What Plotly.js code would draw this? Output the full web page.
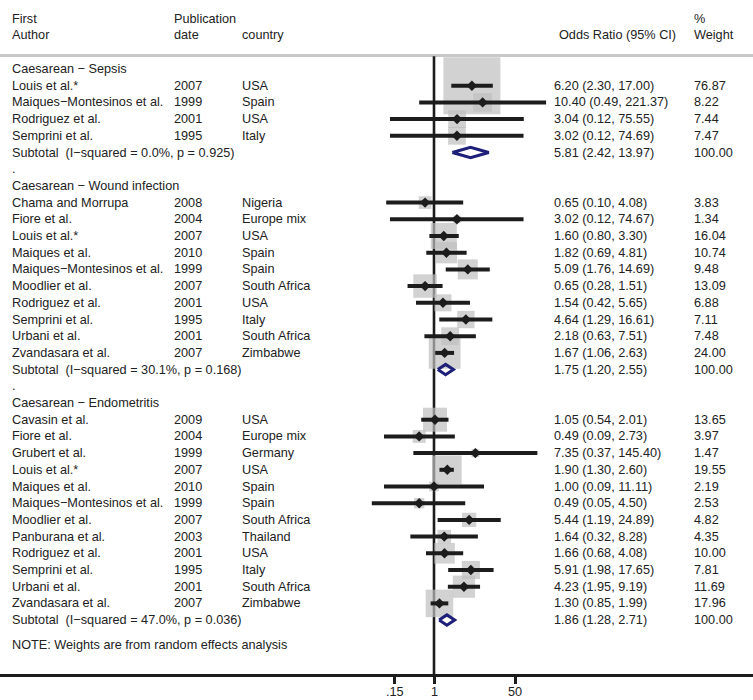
<!DOCTYPE html>
<html>
<head>
<meta charset="utf-8">
<script src="https://cdn.plot.ly/plotly-3.0.1.min.js"></script>
<style>
html,body{margin:0;padding:0;background:#fff;}
#chart{width:753px;height:700px;}
</style>
</head>
<body>
<div id="chart"></div>
<script>
// ---------------- DATA ----------------
const groupNames = ['Caesarean \u2212 Sepsis', 'Caesarean \u2212 Wound infection', 'Caesarean \u2212 Endometritis'];

const groupIdx = [0,0,0,0, 1,1,1,1,1,1,1,1,1,1, 2,2,2,2,2,2,2,2,2,2,2,2];
const authors = [
  'Louis et al.*', 'Maiques\u2212Montesinos et al.', 'Rodriguez et al.', 'Semprini et al.',
  'Chama and Morrupa', 'Fiore et al.', 'Louis et al.*', 'Maiques et al.', 'Maiques\u2212Montesinos et al.',
  'Moodlier et al.', 'Rodriguez et al.', 'Semprini et al.', 'Urbani et al.', 'Zvandasara et al.',
  'Cavasin et al.', 'Fiore et al.', 'Grubert et al.', 'Louis et al.*', 'Maiques et al.',
  'Maiques\u2212Montesinos et al.', 'Moodlier et al.', 'Panburana et al.', 'Rodriguez et al.',
  'Semprini et al.', 'Urbani et al.', 'Zvandasara et al.'
];
const years = [
  '2007','1999','2001','1995',
  '2008','2004','2007','2010','1999','2007','2001','1995','2001','2007',
  '2009','2004','1999','2007','2010','1999','2007','2003','2001','1995','2001','2007'
];
const countries = [
  'USA','Spain','USA','Italy',
  'Nigeria','Europe mix','USA','Spain','Spain','South Africa','USA','Italy','South Africa','Zimbabwe',
  'USA','Europe mix','Germany','USA','Spain','Spain','South Africa','Thailand','USA','Italy','South Africa','Zimbabwe'
];
const orEst = [6.20,10.40,3.04,3.02,
  0.65,3.02,1.60,1.82,5.09,0.65,1.54,4.64,2.18,1.67,
  1.05,0.49,7.35,1.90,1.00,0.49,5.44,1.64,1.66,5.91,4.23,1.30];
const ciLo = [2.30,0.49,0.12,0.12,
  0.10,0.12,0.80,0.69,1.76,0.28,0.42,1.29,0.63,1.06,
  0.54,0.09,0.37,1.30,0.09,0.05,1.19,0.32,0.68,1.98,1.95,0.85];
const ciHi = [17.00,221.37,75.55,74.69,
  4.08,74.67,3.30,4.81,14.69,1.51,5.65,16.61,7.51,2.63,
  2.01,2.73,145.40,2.60,11.11,4.50,24.89,8.28,4.08,17.65,9.19,1.99];
const weights = [76.87,8.22,7.44,7.47,
  3.83,1.34,16.04,10.74,9.48,13.09,6.88,7.11,7.48,24.00,
  13.65,3.97,1.47,19.55,2.19,2.53,4.82,4.35,10.00,7.81,11.69,17.96];

const subOR = [5.81, 1.75, 1.86];
const subLo = [2.42, 1.20, 1.28];
const subHi = [13.97, 2.55, 2.71];
const subI2 = ['0.0%', '30.1%', '47.0%'];
const subP = ['0.925', '0.168', '0.036'];

const tickVals = [0.15, 1, 50];
const tickText = ['.15', '1', '50'];
const noteText = 'NOTE: Weights are from random effects analysis';

// ---------------- LAYOUT HELPERS ----------------
const W = 753, H = 700;
const FONT = {family: 'Liberation Sans, Arial, Helvetica, sans-serif', size: 12.7, color: '#222'};
const colX = {author: 12, date: 174, country: 242, orHead: 559, orVal: 554, weight: 694};
const px = v => v / W;

const annotations = [];
function addText(xpx, row, text) {
  annotations.push({
    xref: 'paper', yref: 'y', x: px(xpx), y: row, text: text,
    xanchor: 'left', yanchor: 'middle', showarrow: false,
    borderpad: 0, borderwidth: 0, font: FONT
  });
}

// headers
addText(colX.author, -3.0, 'First');
addText(colX.author, -2.04, 'Author');
addText(colX.date, -3.0, 'Publication');
addText(colX.date, -2.04, 'date');
addText(colX.country, -2.04, 'country');
addText(colX.orHead, -2.04, 'Odds Ratio (95% CI)');
addText(colX.weight, -3.0, '%');
addText(colX.weight, -2.04, 'Weight');

// build rows
const studyRow = new Array(authors.length);
const subRow = [];
let row = 0;
for (let g = 0; g < groupNames.length; g++) {
  addText(colX.author, row, groupNames[g]);
  row++;
  for (let i = 0; i < authors.length; i++) {
    if (groupIdx[i] !== g) continue;
    studyRow[i] = row;
    addText(colX.author, row, authors[i]);
    addText(colX.date, row, years[i]);
    addText(colX.country, row, countries[i]);
    addText(colX.orVal, row, orEst[i].toFixed(2) + ' (' + ciLo[i].toFixed(2) + ', ' + ciHi[i].toFixed(2) + ')');
    addText(colX.weight, row, weights[i].toFixed(2));
    row++;
  }
  subRow.push(row);
  addText(colX.author, row, 'Subtotal\u00a0 (I\u2212squared = ' + subI2[g] + ', p = ' + subP[g] + ')');
  addText(colX.orVal, row, subOR[g].toFixed(2) + ' (' + subLo[g].toFixed(2) + ', ' + subHi[g].toFixed(2) + ')');
  addText(colX.weight, row, '100.00');
  row++;
  if (g < groupNames.length - 1) {
    addText(colX.author, row, '.');
    row++;
  }
}
addText(colX.author, row + 0.5, noteText);

// ---------------- TRACES ----------------
const traces = [];

// weight boxes
traces.push({
  type: 'scatter', mode: 'markers', x: orEst, y: studyRow,
  marker: {symbol: 'square', size: weights.map(w => 6.5 * Math.sqrt(w)), color: '#bfbfbf', line: {width: 0}},
  hoverinfo: 'skip', cliponaxis: false
});

// CI lines
const ciX = [], ciY = [];
for (let i = 0; i < authors.length; i++) {
  ciX.push(ciLo[i], ciHi[i], null);
  ciY.push(studyRow[i], studyRow[i], null);
}
traces.push({
  type: 'scatter', mode: 'lines', x: ciX, y: ciY,
  line: {color: '#1c1c1c', width: 4}, hoverinfo: 'skip'
});

// point estimates
traces.push({
  type: 'scatter', mode: 'markers', x: orEst, y: studyRow,
  marker: {symbol: 'diamond', size: 8, color: '#1c1c1c', line: {width: 0}},
  hoverinfo: 'skip'
});

// subtotal diamonds
const dh = 0.31;
for (let g = 0; g < subOR.length; g++) {
  const r = subRow[g];
  traces.push({
    type: 'scatter', mode: 'lines',
    x: [subLo[g], subOR[g], subHi[g], subOR[g], subLo[g]],
    y: [r, r - dh, r, r + dh, r],
    line: {color: '#1e1f78', width: 3}, hoverinfo: 'skip'
  });
}

// ---------------- AXES ----------------
const pxPerDecade = 47.8;
const x1px = 434;
const plotBottom = 674;
const rowTop = 69, rowStep = 16.7;
const yTopRow = (0 - rowTop) / rowStep;
const yBotRow = (plotBottom - rowTop) / rowStep;
const sepRow = (55.5 - rowTop) / rowStep;

// tick labels placed through the x scale (log axis: annotation x is log10 of value)
for (let t = 0; t < tickVals.length; t++) {
  annotations.push({
    xref: 'x', yref: 'paper', x: Math.log10(tickVals[t]), y: -(692 - plotBottom) / plotBottom,
    text: tickText[t], xanchor: 'center', yanchor: 'middle', showarrow: false,
    borderpad: 0, borderwidth: 0, font: FONT
  });
}

const layout = {
  width: W, height: H,
  margin: {l: 0, r: 0, t: 0, b: H - plotBottom, pad: 0},
  paper_bgcolor: '#fff', plot_bgcolor: '#fff',
  showlegend: false,
  font: FONT,
  xaxis: {
    type: 'log',
    range: [-x1px / pxPerDecade, (W - x1px) / pxPerDecade],
    showgrid: false, zeroline: false,
    showline: true, linecolor: '#1c1c1c', linewidth: 3,
    ticks: 'outside', ticklen: 7, tickwidth: 3, tickcolor: '#1c1c1c',
    tickvals: tickVals, ticktext: tickText, showticklabels: false,
    fixedrange: true
  },
  yaxis: {
    range: [yBotRow, yTopRow],
    showgrid: false, zeroline: false, showline: false, showticklabels: false, ticks: '',
    fixedrange: true
  },
  shapes: [
    {type: 'line', layer: 'below', xref: 'paper', yref: 'y', x0: 0, x1: 1, y0: sepRow, y1: sepRow,
     line: {color: '#c8c8c8', width: 3}},
    {type: 'line', layer: 'below', xref: 'x', yref: 'y', x0: 1, x1: 1, y0: sepRow + 0.05, y1: yBotRow,
     line: {color: '#1c1c1c', width: 2.6}}
  ],
  annotations: annotations
};

Plotly.newPlot('chart', traces, layout, {displayModeBar: false, staticPlot: true});
</script>
</body>
</html>
